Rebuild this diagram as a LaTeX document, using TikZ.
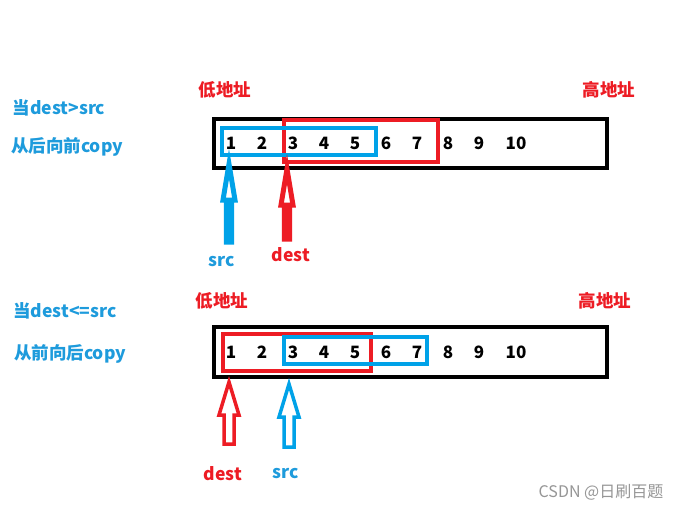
\documentclass[tikz,border=0pt]{standalone}
\usepackage{fontspec}
\setmainfont{Noto Sans CJK SC}
\newfontfamily\cjk{Noto Sans CJK SC}
\definecolor{pblue}{RGB}{0,162,232}
\definecolor{pred}{RGB}{237,28,36}
\definecolor{tblue}{RGB}{30,155,220}
\definecolor{wm}{RGB}{150,150,150}
\newcommand\hollowArrow[8]{% color, x, tip y, bottom y, head half w, head len, shaft half w, line width
  \draw[#1, line width=#8, fill=white, line join=miter]
    (#2,#3) -- (#2+#5,#3+#6) -- (#2+#7,#3+#6) -- (#2+#7,#4) -- (#2-#7,#4)
    -- (#2-#7,#3+#6) -- (#2-#5,#3+#6) -- cycle;}
\begin{document}
\begin{tikzpicture}[x=1pt,y=-1pt,
  lab/.style={font=\cjk\bfseries\fontsize{17.5}{20}\selectfont, inner sep=0pt},
  num/.style={font=\cjk\bfseries\fontsize{17}{20}\selectfont, inner sep=0pt},
  bbox/.style={draw=black, line width=4pt},
  bluebox/.style={draw=pblue, line width=4pt},
  redbox/.style={draw=pred, line width=4pt}]
\useasboundingbox[fill=white] (0,0) rectangle (683,511);

% ---------- top ----------
\node[lab, text=tblue] (t1) at (59,108) {当dest>src};
\node[lab, text=tblue] (t2) at (67,147) {从后向前copy};
\node[lab, text=pred] (lo1) at (225,90) {低地址};
\node[lab, text=pred] (hi1) at (609,90) {高地址};
\draw[bbox] (214,119) rectangle (607,168);
\draw[redbox] (284,120) rectangle (438,162);
\draw[bluebox] (222,128) rectangle (376,155);
\foreach \n [count=\i] in {1,...,9} {
  \node[num] (a\n) at (231+31*\i-31,143) {\n};
}
\node[num] (a10) at (516,143) {10};
\hollowArrow{pblue}{229}{164}{242}{6}{36}{2.6}{5pt}
\hollowArrow{pred}{287}{169}{239}{6}{36}{2.6}{5pt}
\node[lab, text=tblue] (src1) at (222,262) {src};
\node[lab, text=pred] (dst1) at (291,255) {dest};

% ---------- bottom ----------
\node[lab, text=tblue] (b1) at (65,311) {当dest<=src};
\node[lab, text=tblue] (b2) at (70,354) {从前向后copy};
\node[lab, text=pred] (lo2) at (222,301) {低地址};
\node[lab, text=pred] (hi2) at (605,301) {高地址};
\draw[bbox] (214,327) rectangle (607,377);
\draw[redbox] (223,334) rectangle (371,371);
\draw[bluebox] (284,337) rectangle (427,364);
\foreach \n [count=\i] in {1,...,9} {
  \node[num] (c\n) at (231+31*\i-31,352) {\n};
}
\node[num] (c10) at (516,352) {10};
\hollowArrow{pred}{229}{382}{444}{10}{33}{5}{3.5pt}
\hollowArrow{pblue}{289}{384}{447}{10}{33}{5}{3.5pt}
\node[lab, text=pred] (dst2) at (223,474) {dest};
\node[lab, text=tblue] (src2) at (286,474) {src};

\node[font=\cjk\fontsize{16}{19}\selectfont, text=wm, inner sep=0pt] (wmk) at (601,492) {CSDN @日刷百题};
\end{tikzpicture}
\end{document}
